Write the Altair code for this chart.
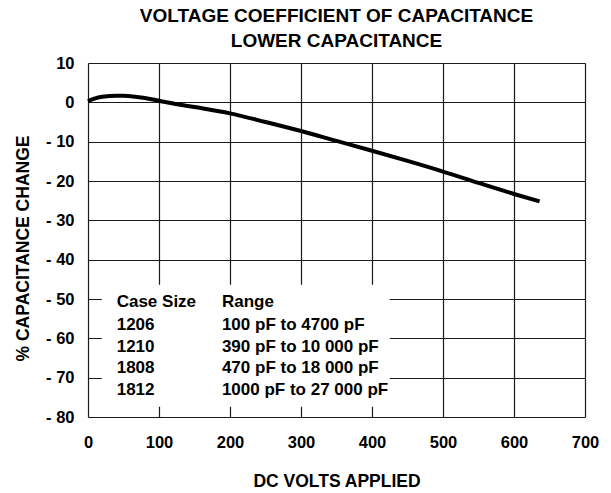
import altair as alt
import pandas as pd

# ---- data ----
volts = [0, 10, 20, 30, 40, 50, 60, 80, 100, 120, 150, 200, 250, 300, 350, 400, 450, 500, 550, 600, 636]
change = [0.3, 1.0, 1.4, 1.6, 1.7, 1.65, 1.55, 1.1, 0.4, -0.3, -1.2, -2.8, -5.0, -7.3, -9.8, -12.3, -14.9, -17.6, -20.5, -23.3, -25.2]

case_sizes = ["Case Size", "1206", "1210", "1808", "1812"]
ranges = ["Range", "100 pF to 4700 pF", "390 pF to 10 000 pF", "470 pF to 18 000 pF", "1000 pF to 27 000 pF"]

x_ticks = [0, 100, 200, 300, 400, 500, 600, 700]
y_ticks = [10, 0, -10, -20, -30, -40, -50, -60, -70, -80]

# ---- layout of the inset table (data units) ----
box_x = [19.5, 425]
box_y = [-46.4, -77.4]
col_x = [40.4, 188.6]
row_y = [-50.8, -56.6, -62.1, -67.6, -73.2]

FONT = "Liberation Sans"

curve = pd.DataFrame({"v": volts, "c": change})
box = pd.DataFrame({"x": [box_x[0]], "x2": [box_x[1]], "y": [box_y[0]], "y2": [box_y[1]]})
rows = []
for i in range(len(case_sizes)):
    rows.append({"x": col_x[0], "y": row_y[i], "t": case_sizes[i]})
    rows.append({"x": col_x[1], "y": row_y[i], "t": ranges[i]})
table = pd.DataFrame(rows)

xscale = alt.Scale(domain=[0, 700], nice=False, zero=False)
yscale = alt.Scale(domain=[-80, 10], nice=False, zero=False)

xaxis = alt.Axis(values=x_ticks, tickCount=len(x_ticks), title="DC VOLTS APPLIED", grid=True,
                 gridColor="#1a1a1a", gridWidth=1.2,
                 tickSize=0, domain=False, labelFont=FONT, labelFontSize=16.5, labelFontWeight="bold",
                 labelColor="#000", labelPadding=17, labelFlush=False, labelOverlap=False,
                 titleFont=FONT, titleFontSize=17.5, titleFontWeight="bold", titleColor="#000",
                 titleBaseline="alphabetic", titleY=69)
yaxis = alt.Axis(values=y_ticks, tickCount=len(y_ticks), title="% CAPACITANCE CHANGE", grid=True,
                 gridColor="#1a1a1a", gridWidth=1.2,
                 tickSize=0, domain=False, labelFont=FONT, labelFontSize=16.5, labelFontWeight="bold",
                 labelColor="#000", labelPadding=14, labelFlush=False, labelOverlap=False,
                 labelExpr="datum.value < 0 ? '- ' + abs(datum.value) : datum.label",
                 titleFont=FONT, titleFontSize=17.5, titleFontWeight="bold", titleColor="#000",
                 titleBaseline="alphabetic", titleX=-60, titleY=185, titleAlign="center")

base_line = alt.Chart(curve).mark_line(color="#000", strokeWidth=4, interpolate="monotone").encode(
    x=alt.X("v:Q", scale=xscale, axis=xaxis),
    y=alt.Y("c:Q", scale=yscale, axis=yaxis),
)

rect = alt.Chart(box).mark_rect(color="white", opacity=1).encode(
    x=alt.X("x:Q", scale=xscale), x2="x2:Q",
    y=alt.Y("y:Q", scale=yscale), y2="y2:Q",
)

text = alt.Chart(table).mark_text(align="left", baseline="middle", font=FONT, fontSize=17,
                                  fontWeight="bold", color="#000").encode(
    x=alt.X("x:Q", scale=xscale),
    y=alt.Y("y:Q", scale=yscale),
    text="t:N",
)

chart = alt.layer(rect, text, base_line).properties(
    width=497, height=354,
    title=alt.TitleParams(text=["VOLTAGE COEFFICIENT OF CAPACITANCE", "LOWER CAPACITANCE"],
                          font=FONT, fontSize=19, fontWeight="bold", color="#000",
                          lineHeight=25, anchor="middle", offset=4),
    padding={"left": 80, "top": 55, "right": 18, "bottom": 72},
    autosize=alt.AutoSizeParams(type="none"),
).configure_view(stroke="#000", strokeWidth=1.6).configure(background="white")

chart.save("out.html", embed_options={"renderer": "svg", "actions": False})
